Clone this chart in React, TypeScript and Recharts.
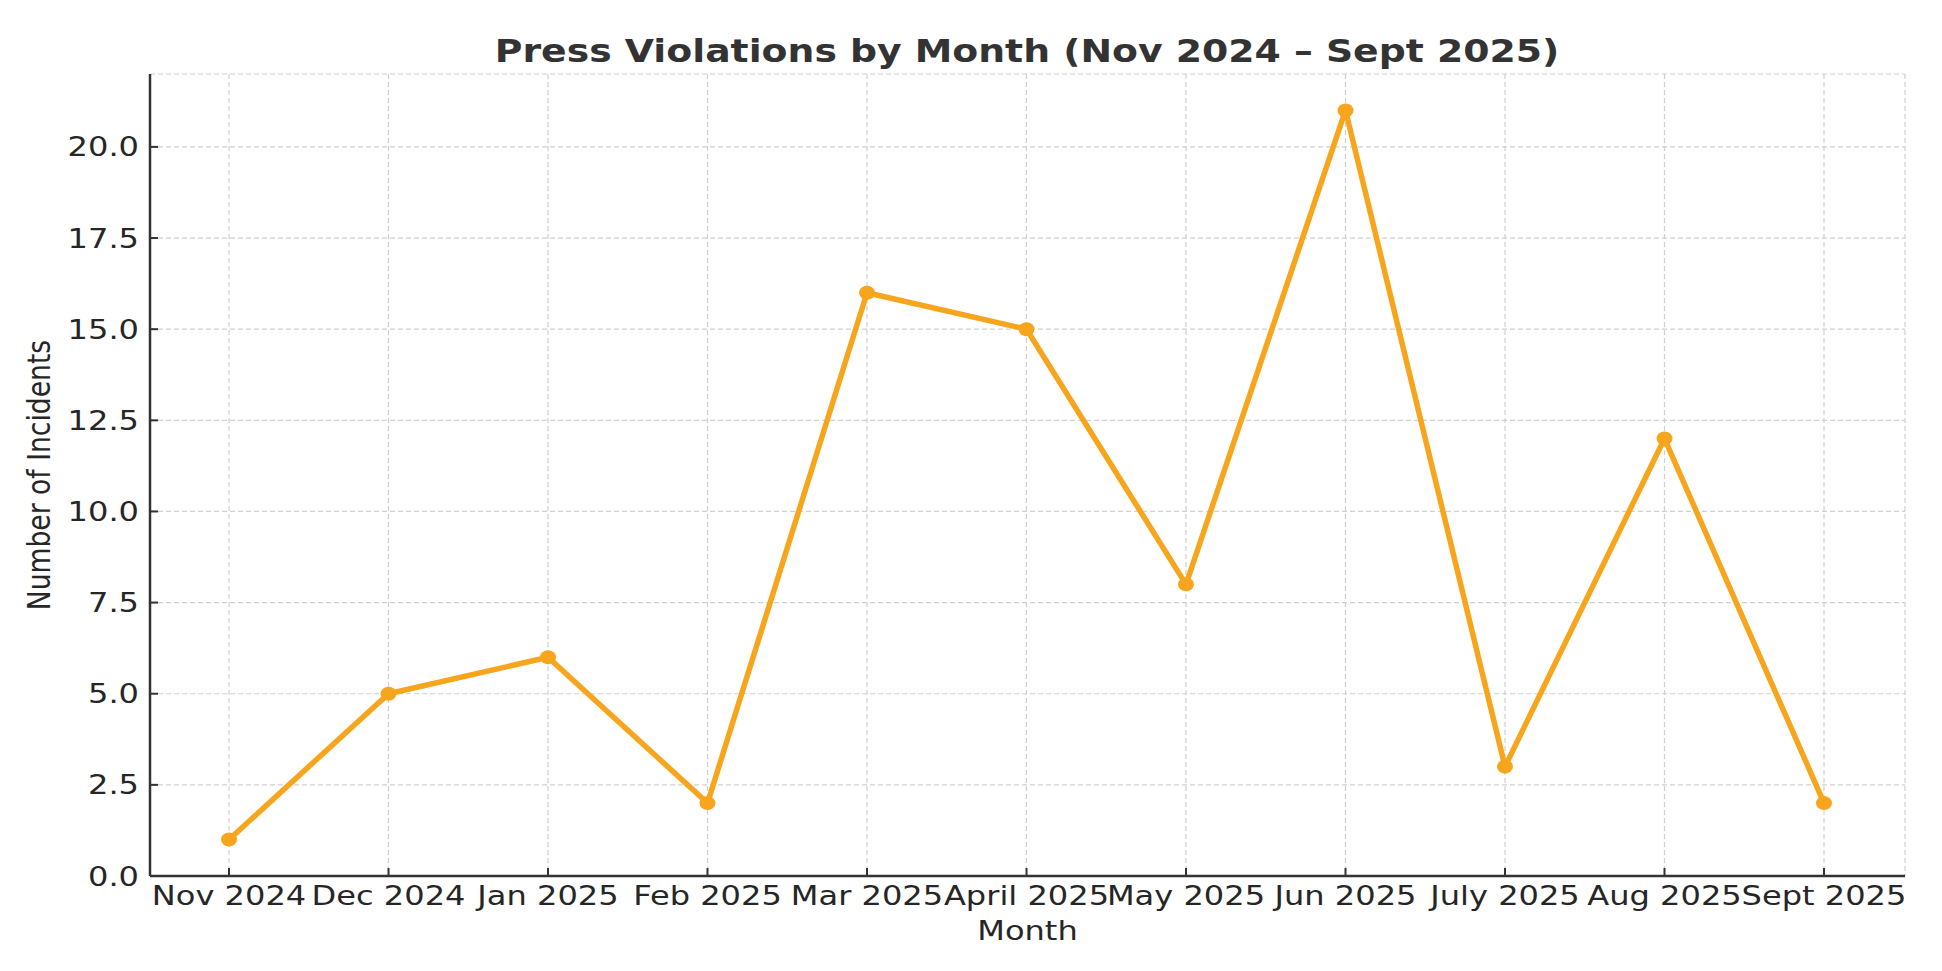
import { LineChart, Line, XAxis, YAxis, CartesianGrid } from 'recharts';

const months = [
  'Nov 2024', 'Dec 2024', 'Jan 2025', 'Feb 2025', 'Mar 2025', 'April 2025',
  'May 2025', 'Jun 2025', 'July 2025', 'Aug 2025', 'Sept 2025',
];
const incidents = [1, 5, 6, 2, 16, 15, 8, 21, 3, 12, 2];
const yTicks = [0, 2.5, 5, 7.5, 10, 12.5, 15, 17.5, 20];

const data = months.map((month, i) => ({ month, incidents: incidents[i] }));

const FONT = '"DejaVu Sans", Verdana, sans-serif';
const INK = '#262626';
const ORANGE = '#f8a51e';
// the source picture is stretched sideways, so text gets a small x scale
const SX = 1.22;

const XTick = (props: { x?: number; y?: number; payload?: { value: string } }) => {
  const { x = 0, y = 0, payload } = props;
  return (
    <g transform={`translate(${x},${y + 19}) scale(${SX},1)`}>
      <text textAnchor="middle" style={{ fontFamily: FONT, fontSize: 26.3, fill: INK }}>
        {payload?.value}
      </text>
    </g>
  );
};

const YTick = (props: { x?: number; y?: number; payload?: { value: number } }) => {
  const { x = 0, y = 0, payload } = props;
  return (
    <g transform={`translate(${x},${y + 9.5}) scale(${SX},1)`}>
      <text textAnchor="end" style={{ fontFamily: FONT, fontSize: 26.3, fill: INK }}>
        {(payload?.value ?? 0).toFixed(1)}
      </text>
    </g>
  );
};

const Dot = (props: { cx?: number; cy?: number }) => {
  const { cx, cy } = props;
  if (cx == null || cy == null) return null;
  return <ellipse cx={cx} cy={cy} rx={8} ry={7} fill={ORANGE} />;
};

export default function App() {
  return (
    <div style={{ position: 'absolute', left: 0, top: 0, width: 1942, height: 971, background: '#fff' }}>
      <svg width={1942} height={971} style={{ position: 'absolute', left: 0, top: 0, pointerEvents: 'none' }}>
        <g transform={`translate(1027,62) scale(1.18,1)`}>
          <text textAnchor="middle"
            style={{ fontFamily: FONT, fontSize: 32, fontWeight: 700, fill: '#333' }}>
            Press Violations by Month (Nov 2024 – Sept 2025)
          </text>
        </g>
      </svg>
      <LineChart width={1942} height={971} data={data}
        margin={{ top: 74, right: 37, bottom: 0, left: 0 }}
        style={{ position: 'absolute', left: 0, top: 0 }}>
        <CartesianGrid stroke="#d0d0d0" strokeWidth={1.2} strokeDasharray="5 3" />
        <XAxis dataKey="month" type="category" height={95}
          padding={{ left: 79, right: 81 }}
          interval={0}
          axisLine={{ stroke: '#333', strokeWidth: 2.5 }}
          tickLine={{ stroke: '#333', strokeWidth: 2 }}
          tickSize={-8} tickMargin={18}
          tick={<XTick />}
          label={({ viewBox }: any) => (
            <g transform={`translate(${viewBox.x + viewBox.width / 2},${viewBox.y + 64}) scale(${SX},1)`}>
              <text textAnchor="middle" style={{ fontFamily: FONT, fontSize: 26.3, fill: INK }}>Month</text>
            </g>
          )}
        />
        <YAxis type="number" domain={[0, 22]} ticks={yTicks} width={150}
          interval={0}
          axisLine={{ stroke: '#333', strokeWidth: 2.5 }}
          tickLine={{ stroke: '#333', strokeWidth: 2 }}
          tickSize={-8} tickMargin={19}
          tick={<YTick />}
          label={({ viewBox }: any) => (
            <g transform={`translate(${viewBox.x + 50},${viewBox.y + viewBox.height / 2}) scale(${SX},1) rotate(-90)`}>
              <text textAnchor="middle" style={{ fontFamily: FONT, fontSize: 26.6, fill: INK }}>
                Number of Incidents
              </text>
            </g>
          )}
        />
        <Line type="linear" dataKey="incidents" stroke={ORANGE} strokeWidth={5.5}
          strokeLinejoin="round"
          dot={<Dot />}
          activeDot={false}
          isAnimationActive={false} />
      </LineChart>
    </div>
  );
}
